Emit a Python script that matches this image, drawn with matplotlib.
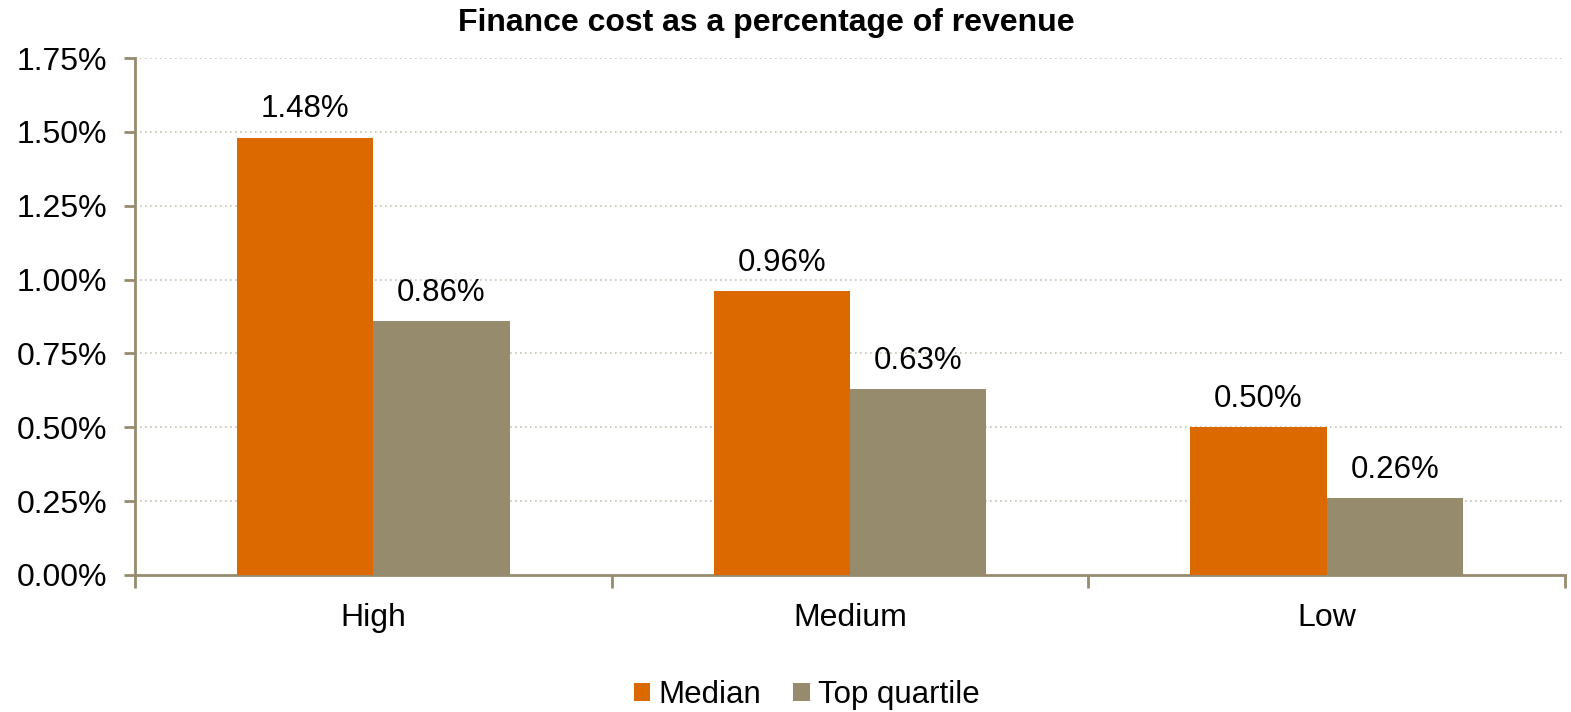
import numpy as np
import matplotlib.pyplot as plt
from matplotlib.ticker import FuncFormatter, FixedLocator

plt.rcParams['font.family'] = ['Liberation Sans', 'DejaVu Sans']

# Datos
categorias = ["High", "Medium", "Low"]
mediana = [1.48, 0.96, 0.50]
cuartil_superior = [0.86, 0.63, 0.26]

naranja = "#DC6900"
marron = "#968C6D"
eje = "#968B6E"

fig = plt.figure(figsize=(15.71, 7.12), dpi=100)
ax = fig.add_axes([135 / 1571, 1 - 575 / 712, 1430 / 1571, 517 / 712])

x = np.arange(len(categorias))
ancho = 0.286
b1 = ax.bar(x - ancho / 2, mediana, ancho, color=naranja, label="Median", zorder=3)
b2 = ax.bar(x + ancho / 2, cuartil_superior, ancho, color=marron, label="Top quartile", zorder=3)

# Etiquetas de valor encima de cada barra
for barras, vals in [(b1, mediana), (b2, cuartil_superior)]:
    for b, v in zip(barras, vals):
        ax.text(b.get_x() + b.get_width() / 2, v + 0.045, f"{v:.2f}%",
                ha="center", va="bottom", fontsize=22.5)

ax.set_xlim(-0.5, len(categorias) - 0.5)
ax.set_ylim(0, 1.75)
ax.set_yticks(np.arange(0, 1.76, 0.25))
ax.yaxis.set_major_formatter(FuncFormatter(lambda v, p: f"{v:.2f}%"))

# Separadores de categoria en el eje x
ax.set_xticks(x)
ax.set_xticklabels(categorias)
ax.xaxis.set_minor_locator(FixedLocator(np.arange(-0.5, len(categorias), 1.0)))
ax.tick_params(axis="x", which="major", length=0, labelsize=23, pad=20)
ax.tick_params(axis="x", which="minor", length=9, width=2, color=eje, direction="out")
ax.tick_params(axis="y", length=8, width=2, color=eje, labelsize=23, pad=12)

# Cuadricula punteada
for yv in np.arange(0.25, 1.76, 0.25):
    ax.axhline(yv, color="#C9C4B2", linestyle=(0, (1, 2)), linewidth=1.2, zorder=1)

for s in ["top", "right"]:
    ax.spines[s].set_visible(False)
ax.spines["left"].set_color(eje)
ax.spines["left"].set_linewidth(2)
ax.spines["bottom"].set_color(eje)
ax.spines["bottom"].set_linewidth(2)

fig.text(0.488, 0.967, "Finance cost as a percentage of revenue", ha="center", va="center",
         fontsize=23, fontweight="bold")

fig.legend(loc="center", bbox_to_anchor=(0.5134, 0.024), ncol=2, frameon=False, fontsize=22.5,
           handlelength=0.52, handleheight=0.52, handletextpad=0.26, columnspacing=1.05)

plt.savefig("out.png", dpi=100)
